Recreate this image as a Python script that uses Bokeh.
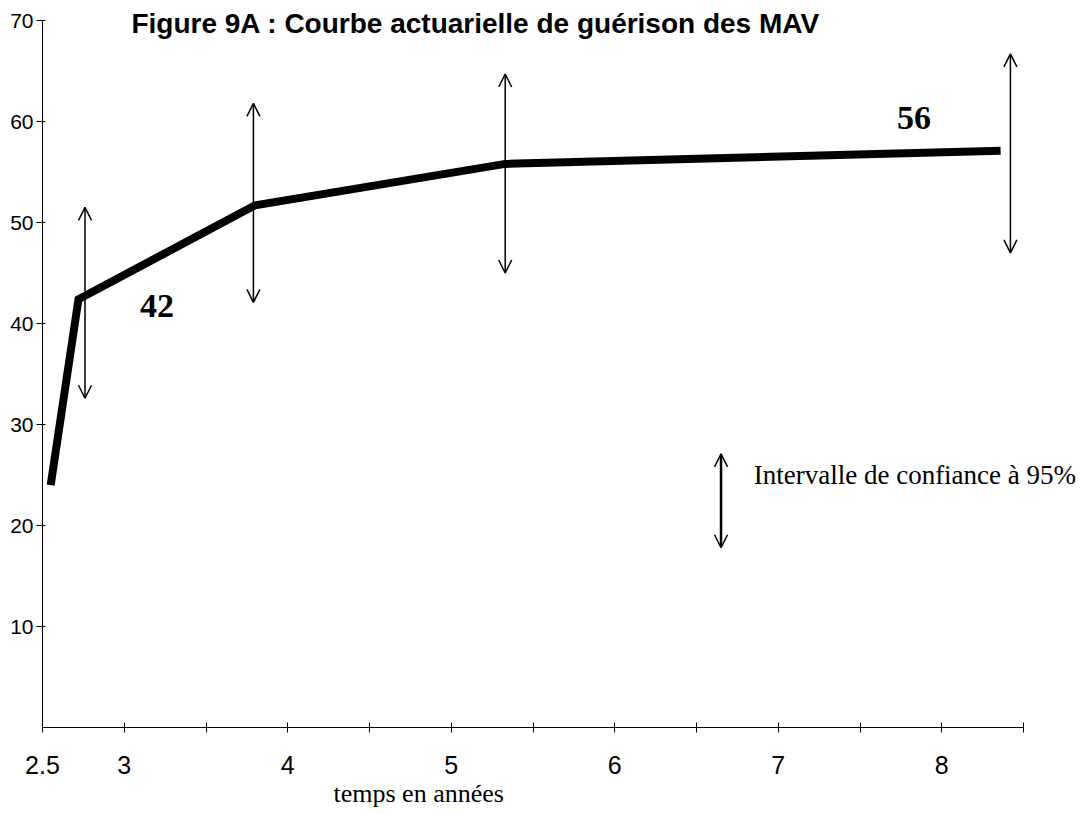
from bokeh.plotting import figure
from bokeh.models import (ColumnDataSource, FixedTicker, Arrow, OpenHead, Title,
                          LinearAxis, Range1d)
from bokeh.core.properties import value
from bokeh.embed import file_html
from bokeh.resources import INLINE

# ---------------- data ----------------
years = [2.55, 2.72, 3.80, 5.33, 8.36]          # temps en années
cure = [24.0, 42.4, 51.7, 55.8, 57.1]           # % guérison cumulée

ci_years = [2.76, 3.79, 5.33, 8.42]             # intervalles de confiance à 95%
ci_low = [32.6, 42.1, 45.0, 47.0]
ci_high = [51.5, 61.8, 64.7, 66.7]

callout_text = ["42", "56"]
callout_x = [3.20, 7.83]
callout_y = [41.7, 60.3]

x_ticks = [2.5, 3.0, 3.5, 4.0, 4.5, 5.0, 5.5, 6.0, 6.5, 7.0, 7.5, 8.0, 8.5]
x_tick_labels = ["2.5", "3", "", "4", "", "5", "", "6", "", "7", "", "8", ""]
y_ticks = [10, 20, 30, 40, 50, 60, 70]

title_text = "Figure 9A : Courbe actuarielle de guérison des MAV"
x_title = "temps en années"
legend_text = "Intervalle de confiance à 95%"

# ---------------- layout ----------------
W, H = 1080, 812
LEFT = 42            # pixel of x = 2.5
ZERO = 727           # pixel of y = 0
BOTTOM = H - ZERO
PXX, PXY = 163.5, 10.1
x_end = 2.5 + (W - LEFT) / PXX
y_end = ZERO / PXY

p = figure(width=W, height=H, output_backend="svg", toolbar_location=None,
           x_range=Range1d(2.5, x_end), y_range=Range1d(0, y_end),
           x_axis_type=None, y_axis_type=None,
           min_border_left=LEFT, min_border_right=0,
           min_border_top=0, min_border_bottom=BOTTOM)
p.outline_line_color = None
p.background_fill_color = "white"
p.border_fill_color = "white"

SANS = "Liberation Sans"
SERIF = "Liberation Serif"

xaxis = LinearAxis(ticker=FixedTicker(ticks=x_ticks, minor_ticks=[]), bounds=(2.5, 8.5))
xaxis.major_label_overrides = {t: l for t, l in zip(x_ticks, x_tick_labels)}
xaxis.axis_line_color = "black"
xaxis.axis_line_width = 1
xaxis.major_tick_line_color = "black"
xaxis.major_tick_in = 5
xaxis.major_tick_out = 5
xaxis.minor_tick_line_color = None
xaxis.major_label_text_font = SANS
xaxis.major_label_text_font_size = "25px"
xaxis.major_label_text_color = "black"
xaxis.major_label_standoff = 23
p.add_layout(xaxis, "below")

# x-axis title, placed under the axis, left-aligned with an offset
p.add_layout(Title(text=x_title, align="left", offset=291, standoff=0,
                   text_font=SERIF, text_font_size="26px",
                   text_font_style="normal", text_color="black"), "below")

yaxis = LinearAxis(ticker=FixedTicker(ticks=y_ticks, minor_ticks=[]), bounds=(0, 70))
yaxis.axis_line_color = "black"
yaxis.axis_line_width = 1
yaxis.major_tick_line_color = "black"
yaxis.major_tick_in = 3
yaxis.major_tick_out = 6
yaxis.minor_tick_line_color = None
yaxis.major_label_text_font = SANS
yaxis.major_label_text_font_size = "21px"
yaxis.major_label_text_color = "black"
yaxis.major_label_standoff = 3
p.add_layout(yaxis, "left")

p.xgrid.visible = False
p.ygrid.visible = False

# main curve
p.line(years, cure, line_width=8, line_color="black", line_join="miter", line_cap="butt")

# confidence intervals (double arrows)
ci_src = ColumnDataSource(dict(x=ci_years, lo=ci_low, hi=ci_high))
p.add_layout(Arrow(x_start="x", y_start="lo", x_end="x", y_end="hi", source=ci_src,
                   line_width=1.5, line_color="black",
                   start=OpenHead(size=13, line_width=1.5, line_color="black"),
                   end=OpenHead(size=13, line_width=1.5, line_color="black")))

# value call-outs
p.text(x=callout_x, y=callout_y, text=callout_text, text_font=value(SERIF),
       text_font_style="bold", text_font_size="34px", text_align="center",
       text_baseline="middle", text_color="black")

# legend for the arrows
p.add_layout(Arrow(x_start=6.65, y_start=17.8, x_end=6.65, y_end=27.1,
                   line_width=2.5, line_color="black",
                   start=OpenHead(size=13, line_width=1.5, line_color="black"),
                   end=OpenHead(size=13, line_width=1.5, line_color="black")))
p.text(x=[6.85], y=[25.0], text=[legend_text], text_font=value(SERIF),
       text_font_size="27px", text_align="left", text_baseline="middle",
       text_color="black")

# chart title
p.text(x=[5.15], y=[69.7], text=[title_text], text_font=value(SANS),
       text_font_style="bold", text_font_size="28px", text_align="center",
       text_baseline="alphabetic", text_color="black")

open("out.html", "w").write(file_html(p, INLINE))
